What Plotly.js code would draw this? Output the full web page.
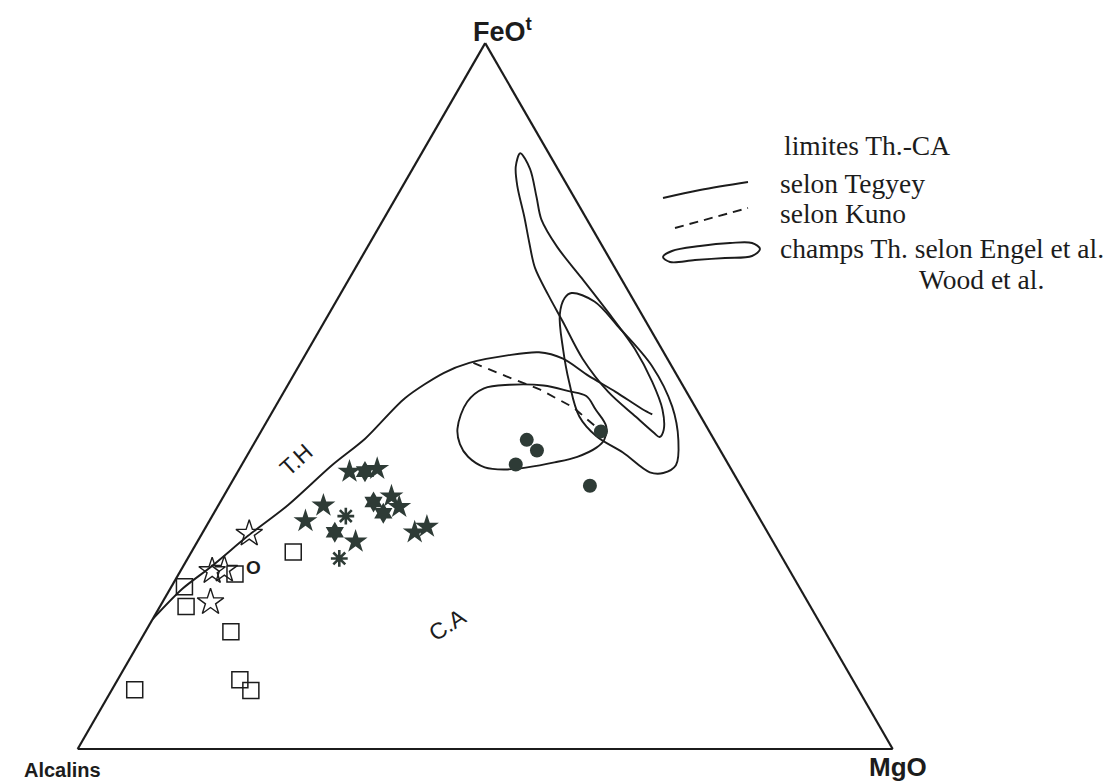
<!DOCTYPE html>
<html><head><meta charset="utf-8">
<script src="https://cdn.plot.ly/plotly-3.0.1.min.js"></script>
<style>html,body{margin:0;padding:0;background:#fff}#chart{width:1109px;height:782px}</style>
</head><body><div id="chart"></div>
<script>
// Ternary values in %: A = FeOt (apex), B = Alcalins (bottom-left), C = MgO (bottom-right)

// Th.-CA limit after Tegyey (solid)
const tegyeyA = [18.4, 22.7, 25.9, 30.2, 34.5, 40.2, 44.0, 49.7, 53.3, 54.7, 55.8, 56.2, 55.3, 52.9, 50.6, 48.1, 47.4];
const tegyeyB = [81.6, 75.8, 70.6, 64.0, 57.0, 48.7, 42.7, 35.0, 28.4, 24.6, 19.2, 15.3, 12.8, 10.9, 8.7, 6.6, 5.8];
const tegyeyC = [0.0, 1.5, 3.5, 5.8, 8.5, 11.1, 13.3, 15.3, 18.3, 20.7, 25.0, 28.5, 31.9, 36.2, 40.7, 45.3, 46.8];

// Th.-CA limit after Kuno (dashed)
const kunoA = [54.7, 52.8, 51.0, 48.4, 45.3];
const kunoB = [24.1, 21.0, 17.9, 15.0, 13.4];
const kunoC = [21.2, 26.2, 31.1, 36.6, 41.3];

// Tholeiitic fields (Engel et al., Wood et al.)
const fieldLowA = [45.4, 49.2, 51.1, 51.6, 51.5, 50.7, 50.0, 48.1, 45.7, 43.8, 42.7, 41.4, 40.6, 39.9, 39.6, 39.9, 41.4, 43.2, 45.4];
const fieldLowB = [30.7, 27.6, 24.6, 21.2, 17.1, 14.4, 12.6, 12.4, 12.3, 13.5, 15.0, 18.0, 21.2, 24.9, 27.8, 30.1, 31.4, 31.5, 30.7];
const fieldLowC = [23.9, 23.2, 24.3, 27.2, 31.4, 34.9, 37.4, 39.5, 42.0, 42.7, 42.3, 40.6, 38.2, 35.2, 32.6, 30.0, 27.2, 25.3, 23.9];

const fieldMidA = [64.6, 63.4, 60.0, 54.2, 48.5, 43.8, 40.2, 39.1, 39.2, 42.0, 44.3, 47.1, 52.0, 56.7, 61.5, 63.9, 64.6];
const fieldMidB = [7.1, 4.9, 3.8, 2.4, 2.8, 4.4, 6.5, 8.6, 10.2, 12.1, 14.2, 14.9, 13.7, 12.1, 10.1, 8.3, 7.1];
const fieldMidC = [28.3, 31.7, 36.2, 43.4, 48.7, 51.8, 53.3, 52.3, 50.6, 45.9, 41.5, 38.0, 34.3, 31.2, 28.4, 27.8, 28.3];

const fieldTallA = [84.4, 82.2, 78.2, 75.0, 71.1, 66.7, 62.0, 56.7, 52.0, 48.1, 45.2, 44.2, 44.8, 47.1, 50.6, 55.3, 60.6, 64.3, 68.2, 71.8, 75.4, 79.7, 82.5, 84.4];
const fieldTallB = [3.5, 3.4, 4.6, 5.6, 5.6, 4.8, 4.0, 3.3, 3.5, 4.2, 5.5, 6.5, 6.9, 8.0, 9.6, 10.4, 10.2, 10.1, 9.8, 8.7, 7.5, 6.2, 5.0, 3.5];
const fieldTallC = [12.1, 14.4, 17.2, 19.4, 23.3, 28.5, 34.0, 40.0, 44.5, 47.7, 49.3, 49.3, 48.3, 44.9, 39.8, 34.3, 29.2, 25.6, 22.0, 19.5, 17.1, 14.1, 12.5, 12.1];

// Samples
const dotsA = [43.8, 42.3, 40.3, 45.0, 37.3];
const dotsB = [23.0, 22.5, 26.1, 13.3, 18.5];
const dotsC = [33.2, 35.2, 33.6, 41.7, 44.2];

const starsA = [39.3, 39.7, 34.5, 32.3, 35.8, 34.3, 29.4, 30.7, 31.5];
const starsB = [47.0, 43.4, 52.6, 55.9, 43.6, 43.4, 51.2, 43.3, 41.4];
const starsC = [13.7, 16.9, 12.9, 11.8, 20.6, 22.3, 19.4, 26.0, 27.1];

const sunsA = [39.3, 35.0, 33.4, 30.7];
const sunsB = [45.1, 46.2, 45.8, 53.1];
const sunsC = [15.6, 18.8, 20.8, 16.2];

const asterA = [33.0, 27.0];
const asterB = [50.6, 54.4];
const asterC = [16.4, 18.6];

const openStarsA = [30.5, 25.2, 25.4, 20.8];
const openStarsB = [63.7, 70.9, 69.3, 73.3];
const openStarsC = [5.8, 3.9, 5.3, 5.9];

const squaresA = [27.9, 24.8, 23.0, 20.2, 16.6, 9.8, 8.3, 8.4];
const squaresB = [59.6, 68.3, 75.4, 76.6, 72.9, 75.2, 74.6, 88.8];
const squaresC = [12.5, 6.9, 1.6, 3.2, 10.5, 15.0, 17.1, 2.8];

const vertexLabels = ['FeO<sup>t</sup>', 'Alcalins', 'MgO'];
const legendTitle = 'limites Th.-CA';
const legendLabels = ['selon Tegyey', 'selon Kuno', 'champs Th. selon Engel et al.', 'Wood et al.'];
const fieldLabels = ['T.H', 'C.A', 'O'];

const INK = '#1c1c1c';
const FILL = '#2e3b36';

function tern(a, b, c, extra) {
  return Object.assign({type: 'scatterternary', a: a, b: b, c: c, hoverinfo: 'skip', showlegend: false, cliponaxis: false}, extra);
}

const traces = [
  tern(tegyeyA, tegyeyB, tegyeyC, {mode: 'lines', line: {color: INK, width: 1.9, shape: 'spline', smoothing: 0.8}}),
  tern(kunoA, kunoB, kunoC, {mode: 'lines', line: {color: INK, width: 1.9, dash: '9px,7px'}}),
  tern(fieldLowA, fieldLowB, fieldLowC, {mode: 'lines', line: {color: INK, width: 1.9, shape: 'spline', smoothing: 1}}),
  tern(fieldMidA, fieldMidB, fieldMidC, {mode: 'lines', line: {color: INK, width: 1.9, shape: 'spline', smoothing: 1}}),
  tern(fieldTallA, fieldTallB, fieldTallC, {mode: 'lines', line: {color: INK, width: 1.9, shape: 'spline', smoothing: 0.9}}),
  tern(squaresA, squaresB, squaresC, {mode: 'markers', marker: {symbol: 'square-open', size: 16, color: INK, line: {width: 1.5}}}),
  tern(openStarsA, openStarsB, openStarsC, {mode: 'markers', marker: {symbol: 'star-open', size: 20, color: INK, line: {width: 1.4}}}),
  tern(starsA, starsB, starsC, {mode: 'markers', marker: {symbol: 'star', size: 18, color: FILL, line: {width: 0}}}),
  tern(sunsA, sunsB, sunsC, {mode: 'markers', marker: {symbol: 'hexagram', size: 16, color: FILL, line: {width: 0}}}),
  tern(asterA, asterB, asterC, {mode: 'markers', marker: {symbol: 'asterisk-open', size: 14, color: FILL, line: {width: 2.6, color: FILL}}}),
  tern(dotsA, dotsB, dotsC, {mode: 'markers', marker: {symbol: 'circle', size: 14, color: FILL, line: {width: 0}}}),
  // legend samples drawn on an overlay pixel-space axis
  {type: 'scatter', xaxis: 'x', yaxis: 'y', mode: 'lines', hoverinfo: 'skip', showlegend: false,
   x: [663, 700, 748], y: [198, 190, 182], line: {color: INK, width: 1.9, shape: 'spline'}},
  {type: 'scatter', xaxis: 'x', yaxis: 'y', mode: 'lines', hoverinfo: 'skip', showlegend: false,
   x: [675, 748], y: [228, 208], line: {color: INK, width: 1.9, dash: '9px,6px'}},
  {type: 'scatter', xaxis: 'x', yaxis: 'y', mode: 'lines', hoverinfo: 'skip', showlegend: false,
   x: [663, 672, 700, 730, 752, 760, 752, 725, 695, 670, 663],
   y: [257, 251, 246, 243, 243, 249, 256, 258, 260, 262, 257],
   line: {color: INK, width: 1.9, shape: 'spline', smoothing: 1}}
];

const hiddenTernAxis = {showgrid: false, showticklabels: false, ticks: '', ticklen: 0,
  showline: true, linecolor: INK, linewidth: 2.2, title: {text: ''}};

const sans = 'Liberation Sans, Arial, sans-serif';
const serif = 'Liberation Serif, Times New Roman, serif';

function ann(text, x, y, opts) {
  return Object.assign({text: text, x: x, y: y, xref: 'x', yref: 'y', showarrow: false,
    xanchor: 'center', yanchor: 'middle'}, opts);
}

const annotations = [
  ann(vertexLabels[0], 503, 30, {font: {family: sans, size: 27, color: INK, weight: 'bold'}}),
  ann(vertexLabels[1], 62, 770, {font: {family: sans, size: 20, color: INK, weight: 'bold'}}),
  ann(vertexLabels[2], 898, 767, {font: {family: sans, size: 26, color: INK, weight: 'bold'}}),
  ann(fieldLabels[0], 296, 460, {textangle: -42, font: {family: sans, size: 23, color: INK}}),
  ann(fieldLabels[1], 447, 625, {textangle: -33, font: {family: sans, size: 23, color: INK}}),
  ann(fieldLabels[2], 253, 567, {font: {family: sans, size: 19, color: INK, weight: 'bold'}}),
  ann(legendTitle, 782, 145, {xanchor: 'left', font: {family: serif, size: 27.5, color: INK}}),
  ann(legendLabels[0], 778, 183, {xanchor: 'left', font: {family: serif, size: 27.5, color: INK}}),
  ann(legendLabels[1], 778, 213, {xanchor: 'left', font: {family: serif, size: 27.5, color: INK}}),
  ann(legendLabels[2], 778, 248, {xanchor: 'left', font: {family: serif, size: 27.5, color: INK}}),
  ann(legendLabels[3], 917, 279, {xanchor: 'left', font: {family: serif, size: 27.5, color: INK}})
];

const layout = {
  width: 1109, height: 782,
  margin: {l: 0, r: 0, t: 0, b: 0, pad: 0},
  paper_bgcolor: '#ffffff', plot_bgcolor: 'rgba(0,0,0,0)',
  showlegend: false, hovermode: false,
  ternary: {
    sum: 100,
    domain: {x: [0.065, 0.81], y: [0.0422, 0.9448]},
    bgcolor: 'rgba(0,0,0,0)',
    aaxis: hiddenTernAxis, baxis: hiddenTernAxis, caxis: hiddenTernAxis
  },
  xaxis: {range: [0, 1109], visible: false, domain: [0, 1], fixedrange: true},
  yaxis: {range: [782, 0], visible: false, domain: [0, 1], fixedrange: true},
  annotations: annotations
};

Plotly.newPlot('chart', traces, layout, {staticPlot: true, displayModeBar: false});
</script>
</body></html>
